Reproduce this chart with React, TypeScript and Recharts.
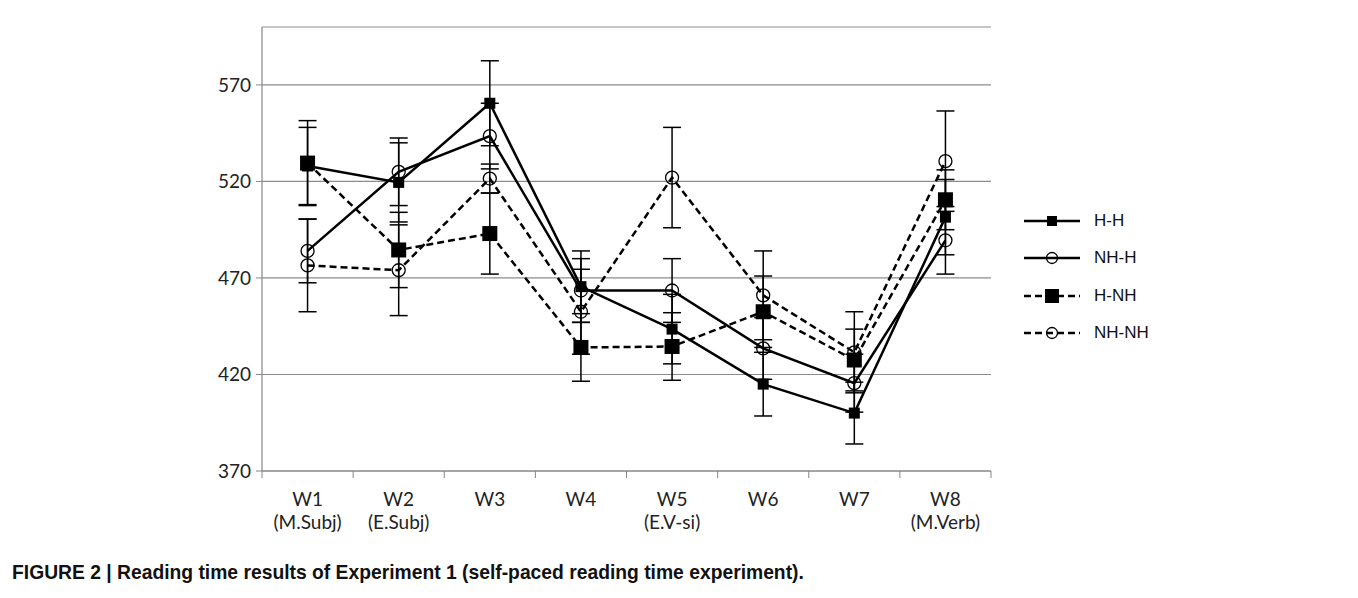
import React from 'react'
import { LineChart, Line, XAxis, YAxis, CartesianGrid, ErrorBar } from 'recharts'

// reading times (ms) per word region
const words = ['W1', 'W2', 'W3', 'W4', 'W5', 'W6', 'W7', 'W8']
const subLabels = ['(M.Subj)', '(E.Subj)', '', '', '(E.V-si)', '', '', '(M.Verb)']

const hh = [528, 519.5, 560.5, 465.5, 443.5, 415, 400, 501.5]
const hhErr = [20, 20.5, 22, 18.5, 18, 16.5, 16, 19.5]
const nhh = [484, 525, 543.5, 463.5, 463.5, 433.5, 415.5, 489.5]
const nhhErr = [16.5, 17.5, 17, 16.5, 16.5, 16, 15, 17.5]
const hnh = [529.5, 484.5, 493, 434, 434.5, 452.5, 427.5, 510.5]
const hnhErr = [22, 19.5, 21, 17.5, 17.5, 18.5, 16, 15.5]
const nhnh = [476.5, 474, 521.5, 452.5, 522, 461, 431.5, 530.5]
const nhnhErr = [24, 23.5, 7.5, 22, 26, 23, 21, 26]

const yTicks = [370, 420, 470, 520, 570]

const series = [
  { key: 'hh', name: 'H-H', values: hh, errors: hhErr, dash: undefined, shape: 'square', size: 11 },
  { key: 'nhh', name: 'NH-H', values: nhh, errors: nhhErr, dash: undefined, shape: 'circle', size: 13 },
  { key: 'hnh', name: 'H-NH', values: hnh, errors: hnhErr, dash: '7 4', shape: 'square', size: 15 },
  { key: 'nhnh', name: 'NH-NH', values: nhnh, errors: nhnhErr, dash: '7 4', shape: 'circle', size: 13 },
]

const data = words.map((w, i) => {
  const row: Record<string, number | string> = { x: i + 0.5, word: w }
  series.forEach(s => {
    row[s.key] = s.values[i]
    row[s.key + 'Err'] = s.errors[i]
  })
  return row
})

// category centres at i + 0.5, boundary tick marks at whole numbers
const xTicks = words.flatMap((_, i) => [i, i + 0.5]).concat(words.length)

const AXIS = '#868686'
const tickFont = "Lato, 'Open Sans', sans-serif"

function Marker({ cx, cy, shape, size }: { cx: number; cy: number; shape: string; size: number }) {
  if (shape === 'square') {
    return <rect x={cx - size / 2} y={cy - size / 2} width={size} height={size} fill="#000" />
  }
  return <circle cx={cx} cy={cy} r={size / 2} fill="none" stroke="#000" strokeWidth={1.3} />
}

function CatTick(props: any) {
  const { x, y, payload } = props
  const v = payload.value
  if (Number.isInteger(v)) {
    return <line x1={x} x2={x} y1={y} y2={y + 7} stroke={AXIS} />
  }
  const i = Math.floor(v)
  return (
    <g>
      <text x={x} y={y + 35} textAnchor="middle" fill="#222" fontSize={19} fontFamily={tickFont}>
        {words[i]}
      </text>
      {subLabels[i] && (
        <text x={x} y={y + 58} textAnchor="middle" fill="#222" fontSize={19} fontFamily={tickFont}>
          {subLabels[i]}
        </text>
      )}
    </g>
  )
}

function LegendBox() {
  return (
    <div style={{ position: 'absolute', left: 1024, top: 202 }}>
      {series.map(s => (
        <div key={s.key} style={{ display: 'flex', alignItems: 'center', height: 37.5 }}>
          <svg width={56} height={20}>
            <line x1={0} x2={56} y1={10} y2={10} stroke="#000" strokeWidth={2.5} strokeDasharray={s.dash} />
            <Marker cx={28} cy={10} shape={s.shape} size={s.shape === 'circle' ? 11 : s.size - 1} />
          </svg>
          <span style={{ marginLeft: 14, fontFamily: "'Liberation Sans', Arial, sans-serif", fontSize: 17, color: '#111' }}>
            {s.name}
          </span>
        </div>
      ))}
    </div>
  )
}

export default function App() {
  return (
    <div style={{ margin: -8, width: 1358, height: 598, position: 'relative', overflow: 'hidden', background: '#fff' }}>
      <div style={{ position: 'absolute', left: 0, top: 0 }}>
        <LineChart width={1358} height={545} data={data} margin={{ top: 27, right: 367, left: 202, bottom: 14 }}>
          <CartesianGrid vertical={false} stroke="#8c8c8c" strokeWidth={1.2} />
          <XAxis
            type="number"
            dataKey="x"
            domain={[0, 8]}
            ticks={xTicks}
            interval={0}
            tickLine={false}
            tickSize={0}
            tickMargin={0}
            axisLine={{ stroke: AXIS, strokeWidth: 1.2 }}
            tick={<CatTick />}
            height={60}
          />
          <YAxis
            domain={[370, 600]}
            ticks={yTicks}
            interval={0}
            width={60}
            tickSize={6}
            tickMargin={5}
            axisLine={{ stroke: AXIS, strokeWidth: 1.2 }}
            tickLine={{ stroke: AXIS }}
            tick={{ fill: '#222', fontSize: 19, fontFamily: tickFont }}
          />
          {series.map(s => (
            <Line
              key={s.key}
              dataKey={s.key}
              name={s.name}
              stroke="#000"
              strokeWidth={2.5}
              strokeDasharray={s.dash}
              isAnimationActive={false}
              dot={(p: any) => (
                <g key={`${s.key}-${p.index}`}>
                  <Marker cx={p.cx} cy={p.cy} shape={s.shape} size={s.size} />
                </g>
              )}
              activeDot={false}
            >
              <ErrorBar dataKey={s.key + 'Err'} width={9} stroke="#000" strokeWidth={1.5} direction="y" />
            </Line>
          ))}
        </LineChart>
      </div>
      <LegendBox />
      <div
        style={{
          position: 'absolute',
          left: 12,
          top: 563,
          fontFamily: "'Liberation Sans Narrow', 'Liberation Sans', Arial, sans-serif",
          fontWeight: 'bold',
          fontSize: 19.3,
          color: '#111',
          whiteSpace: 'nowrap',
          lineHeight: '20px',
        }}
      >
        FIGURE 2 | Reading time results of Experiment 1 (self-paced reading time experiment).
      </div>
      <div
        style={{
          position: 'absolute',
          left: 5,
          top: 5,
          width: 1346,
          height: 700,
          outline: '1px solid #9a9a9a',
          zIndex: 10,
          pointerEvents: 'none',
        }}
      />
    </div>
  )
}
